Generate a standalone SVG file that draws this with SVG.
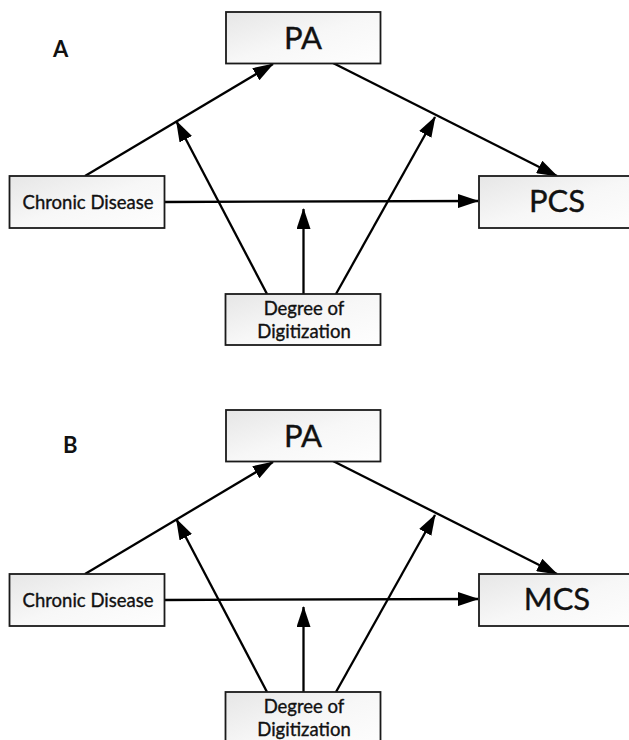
<svg xmlns="http://www.w3.org/2000/svg" width="629" height="740" viewBox="0 0 629 740">
<style>
.box{fill:url(#bg);stroke:#1a1a1a;stroke-width:1.8}
.t{font-family:Lato,"Open Sans","Liberation Sans",sans-serif;fill:#111;stroke:#111;stroke-width:0.35;text-anchor:middle}
.big{font-size:31px}
.sm{font-size:18.5px}
.lbl{font-family:Lato,"Liberation Sans",sans-serif;font-weight:bold;font-size:22px;fill:#111}
.c{stroke:#000;stroke-width:2.3;fill:none;marker-end:url(#ah)}
</style>
<defs>
<linearGradient id="bg" x1="0" y1="0" x2="1" y2="1">
<stop offset="0" stop-color="#e6e6e6"/>
<stop offset="0.5" stop-color="#f7f7f7"/>
<stop offset="1" stop-color="#fefefe"/>
</linearGradient>
<marker id="ah" markerUnits="userSpaceOnUse" markerWidth="21" markerHeight="14" refX="20" refY="7" orient="auto">
<path d="M0,0 L21,7 L0,14 z" fill="#000"/>
</marker>
</defs>
<rect width="629" height="740" fill="#fff"/>

<g id="panelA">
<text class="lbl" x="53" y="57">A</text>
<g id="connectorsA">
<line class="c" x1="85" y1="176" x2="273" y2="64"/>
<line class="c" x1="333" y1="63" x2="557" y2="176"/>
<line class="c" x1="164" y1="202" x2="478" y2="201"/>
<line class="c" x1="267" y1="294" x2="176.5" y2="121.5"/>
<line class="c" x1="303.5" y1="294" x2="303.5" y2="209"/>
<line class="c" x1="336" y1="294" x2="435" y2="117"/>
</g>
<g id="A-PA"><rect class="box" x="226" y="12" width="154.5" height="51.5"/><text class="t big" x="303" y="49">PA</text></g>
<g id="A-Chronic"><rect class="box" x="9.5" y="176" width="155" height="52"/><text class="t sm" x="88" y="209">Chronic Disease</text></g>
<g id="A-PCS"><rect class="box" x="479" y="176" width="160" height="52"/><text class="t big" x="557" y="212">PCS</text></g>
<g id="A-Degree"><rect class="box" x="225.5" y="294" width="155" height="51"/><text class="t sm" x="304" y="315">Degree of</text><text class="t sm" x="304" y="337.5">Digitization</text></g>
</g>

<g id="panelB">
<text class="lbl" x="63" y="453">B</text>
<g id="connectorsB">
<line class="c" x1="85" y1="574" x2="273" y2="462"/>
<line class="c" x1="333" y1="461" x2="557" y2="574"/>
<line class="c" x1="164" y1="600" x2="478" y2="599"/>
<line class="c" x1="267" y1="692" x2="176.5" y2="519.5"/>
<line class="c" x1="303.5" y1="692" x2="303.5" y2="607"/>
<line class="c" x1="336" y1="692" x2="435" y2="515"/>
</g>
<g id="B-PA"><rect class="box" x="226" y="410" width="154.5" height="51.5"/><text class="t big" x="303" y="447">PA</text></g>
<g id="B-Chronic"><rect class="box" x="9.5" y="574" width="155" height="52"/><text class="t sm" x="88" y="607">Chronic Disease</text></g>
<g id="B-MCS"><rect class="box" x="479" y="574" width="160" height="52"/><text class="t big" x="557" y="610">MCS</text></g>
<g id="B-Degree"><rect class="box" x="225.5" y="692" width="155" height="60"/><text class="t sm" x="304" y="713">Degree of</text><text class="t sm" x="304" y="735.5">Digitization</text></g>
</g>
</svg>
